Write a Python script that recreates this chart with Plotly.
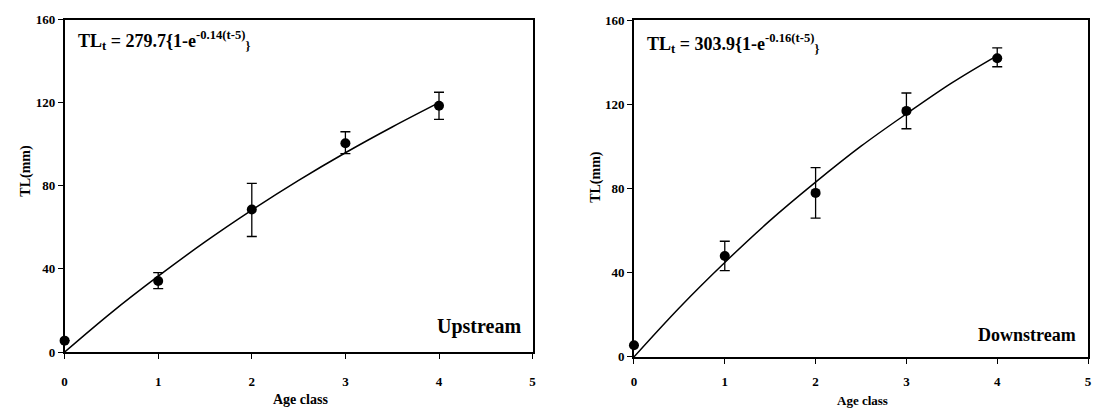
import plotly.graph_objects as go

# ---- data ----
age = [0, 1, 2, 3, 4]

up_tl = [5.5, 34.2, 68.6, 100.5, 118.5]
up_err_plus = [0, 4.0, 12.6, 5.5, 6.5]
up_err_minus = [0, 3.7, 13.0, 5.0, 6.5]

down_tl = [5.5, 48.0, 78.0, 117.0, 142.0]
down_err_plus = [0, 7.0, 12.0, 8.5, 5.0]
down_err_minus = [0, 7.0, 12.0, 8.5, 4.0]

curve_age = [0, 0.5, 1, 1.5, 2, 2.5, 3, 3.5, 4]
up_curve = [0, 19, 36.5, 53, 68.3, 82.6, 95.9, 108.3, 120.0]
down_curve = [0, 23.4, 44.9, 64.9, 83.1, 100.2, 115.6, 130.3, 143.3]

x_ticks = [0, 1, 2, 3, 4, 5]
y_ticks = [0, 40, 80, 120, 160]

FONT = "Liberation Serif"
W, H = 1100, 415

# pixel layout
L1, R1, T1, B1 = 62, 533, 13, 358
L2, R2, T2, B2 = 635, 1092, 14, 363


def px(x):
    return x / W


def py(y):
    return 1 - y / H


fig = go.Figure()

for (tl, ep, em, cv, xa, ya) in [
    (up_tl, up_err_plus, up_err_minus, up_curve, "x", "y"),
    (down_tl, down_err_plus, down_err_minus, down_curve, "x2", "y2"),
]:
    fig.add_trace(go.Scatter(
        x=curve_age, y=cv, mode="lines", line=dict(color="black", width=1.5, shape="spline"),
        xaxis=xa, yaxis=ya, showlegend=False, hoverinfo="skip"))
    fig.add_trace(go.Scatter(
        x=age, y=tl, mode="markers",
        marker=dict(color="black", size=10),
        error_y=dict(type="data", array=ep, arrayminus=em, visible=True,
                     color="black", thickness=1.3, width=5),
        xaxis=xa, yaxis=ya, showlegend=False, cliponaxis=False))

axis_common = dict(
    showgrid=False, zeroline=False, showline=True, linecolor="black", linewidth=1.5,
    mirror=True, ticks="outside", ticklen=5, tickwidth=1.2, tickcolor="black",
    tickfont=dict(family=FONT, size=13, color="black", weight="bold"),
)

fig.update_layout(
    width=W, height=H,
    margin=dict(l=0, r=0, t=0, b=0),
    paper_bgcolor="white", plot_bgcolor="white",
    xaxis=dict(domain=[px(L1), px(R1)], range=[0, 5], tickvals=x_ticks, anchor="y",
               ticklabelstandoff=12, **axis_common),
    yaxis=dict(domain=[py(B1), py(T1)], range=[0, 160], tickvals=y_ticks, anchor="x", **axis_common),
    xaxis2=dict(domain=[px(L2), px(R2)], range=[0, 5], tickvals=x_ticks, anchor="y2",
                ticklabelstandoff=7, **axis_common),
    yaxis2=dict(domain=[py(B2), py(T2)], range=[0, 160], tickvals=y_ticks, anchor="x2", **axis_common),
)

bold = lambda s: dict(family=FONT, size=s, color="black", weight="bold")

annotations = [
    # equations
    dict(x=px(73), y=py(35), xref="paper", yref="paper", xanchor="left", yanchor="middle",
         text="TL<sub>t</sub> = 279.7{1-e<sup>-0.14(t-5)</sup><sub>}</sub>", showarrow=False, font=bold(18)),
    dict(x=px(646), y=py(38), xref="paper", yref="paper", xanchor="left", yanchor="middle",
         text="TL<sub>t</sub> = 303.9{1-e<sup>-0.16(t-5)</sup><sub>}</sub>", showarrow=False, font=bold(18)),
    # panel labels
    dict(x=px(523), y=py(331), xref="paper", yref="paper", xanchor="right", yanchor="middle",
         text="Upstream", showarrow=False, font=bold(20)),
    dict(x=px(1082), y=py(340), xref="paper", yref="paper", xanchor="right", yanchor="middle",
         text="Downstream", showarrow=False, font=bold(18)),
    # axis titles
    dict(x=px(299), y=py(407), xref="paper", yref="paper", xanchor="center", yanchor="middle",
         text="Age class", showarrow=False, font=bold(14)),
    dict(x=px(865), y=py(408), xref="paper", yref="paper", xanchor="center", yanchor="middle",
         text="Age class", showarrow=False, font=bold(13)),
    dict(x=px(23), y=py(170), xref="paper", yref="paper", xanchor="center", yanchor="middle",
         text="TL(mm)", textangle=-90, showarrow=False, font=bold(14)),
    dict(x=px(596), y=py(176), xref="paper", yref="paper", xanchor="center", yanchor="middle",
         text="TL(mm)", textangle=-90, showarrow=False, font=bold(14)),
]
fig.update_layout(annotations=annotations)

fig.write_html("out.html")
